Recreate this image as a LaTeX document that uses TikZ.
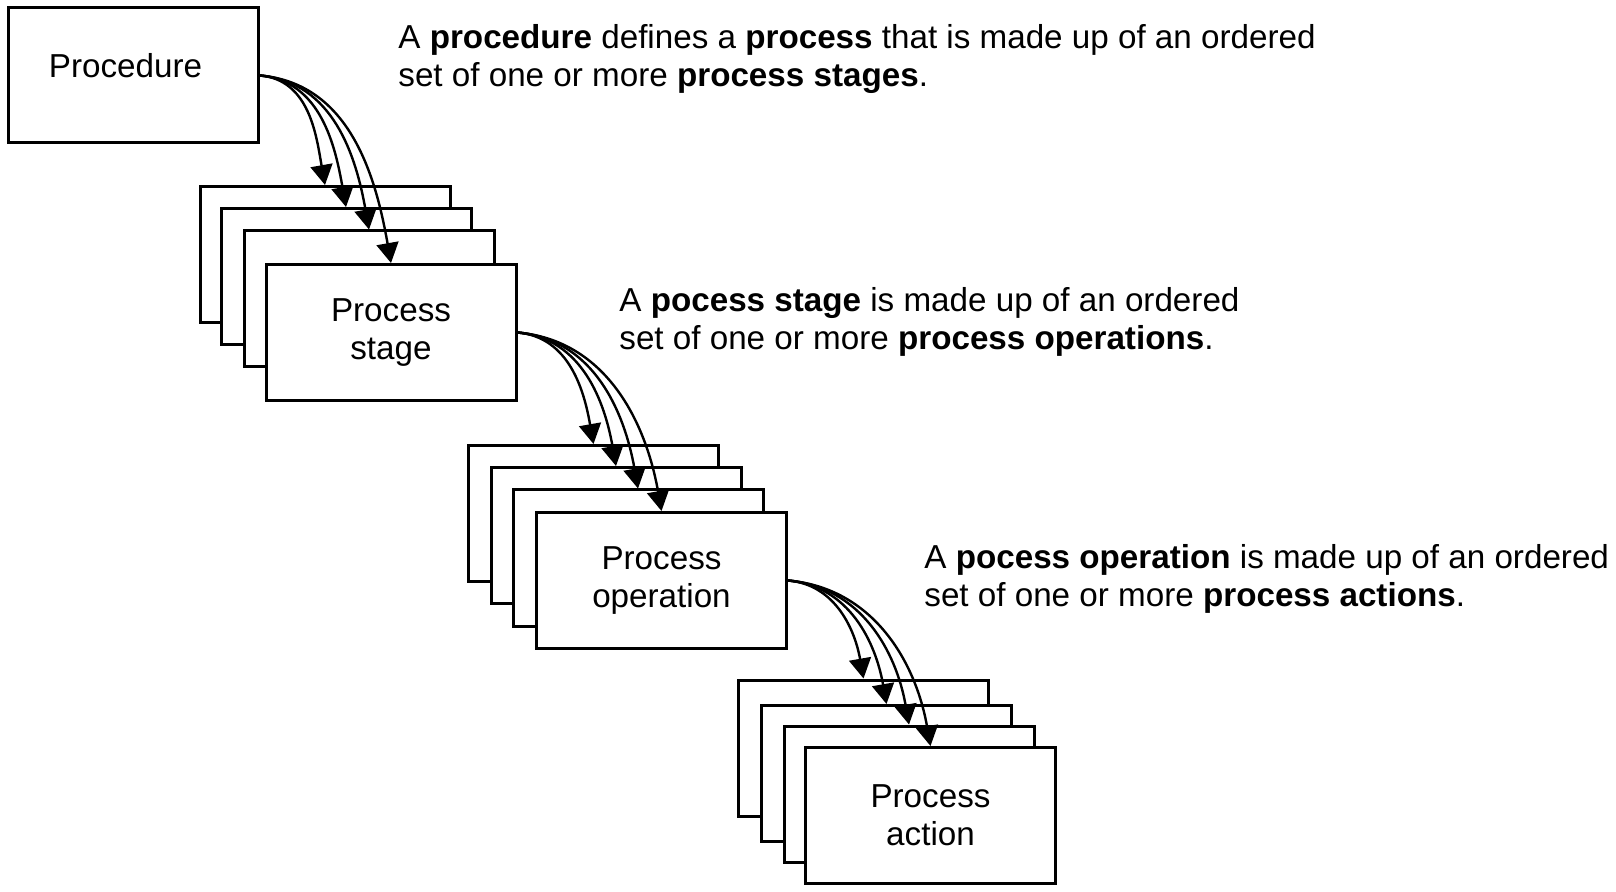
\documentclass[tikz,border=0pt]{standalone}
\usepackage{fontspec}
\setmainfont{Liberation Sans}
\usetikzlibrary{arrows.meta}

\begin{document}
\begin{tikzpicture}
  [x=0.5pt, y=-0.5pt,
   every node/.style={font=\fontsize{16.6}{19}\selectfont},
   box/.style={draw, fill=white, line width=1.5pt, minimum width=125pt, minimum height=68pt, align=center, inner sep=0pt},
   note/.style={anchor=west, align=left, inner sep=0pt},
   link/.style={line width=1.2pt, -{Triangle[length=10pt,width=11pt]}}]
  \fill[white] (0,0) rectangle (1616,892);
  \useasboundingbox (0,0) rectangle (1616,892);
  % procedure
  \node (procedure) [box, minimum height=67.5pt, label={[xshift=-4pt,yshift=5pt]center:Procedure}] at (133.5,75.5) {};
  % stages
  \node (stage1) [box] at (325,254.5) {};
  \node (stage2) [box] at (346,276.5) {};
  \node (stage3) [box] at (369,299) {};
  \node (stage4) [box] at (391,332.5) {Process\\stage};
  % operations
  \node (op1) [box] at (593.5,513.5) {};
  \node (op2) [box] at (616,535.5) {};
  \node (op3) [box] at (638,558) {};
  \node (op4) [box] at (661.5,580.5) {Process\\operation};
  % actions
  \node (act1) [box] at (863.5,748) {};
  \node (act2) [box] at (886.5,773.5) {};
  \node (act3) [box] at (909,794) {};
  \node (act4) [box] at (930.5,815.5) {Process\\action};
  % notes
  \node (note1) [note] at (398,59) {A \textbf{procedure} defines a \textbf{process} that is made up of an ordered\\set of one or more \textbf{process stages}.};
  \node (note2) [note] at (619,322) {A \textbf{pocess stage} is made up of an ordered\\set of one or more \textbf{process operations}.};
  \node (note3) [note] at (924,578.5) {A \textbf{pocess operation} is made up of an ordered\\set of one or more \textbf{process actions}.};
  % links
  \foreach \i in {1,...,4} {
    \draw[link] (procedure.east) to[out=-5, in=100] (stage\i.north);
    \draw[link] (stage4.east) to[out=-5, in=100] (op\i.north);
    \draw[link] (op4.east) to[out=-5, in=100] (act\i.north);
  }
\end{tikzpicture}
\end{document}
